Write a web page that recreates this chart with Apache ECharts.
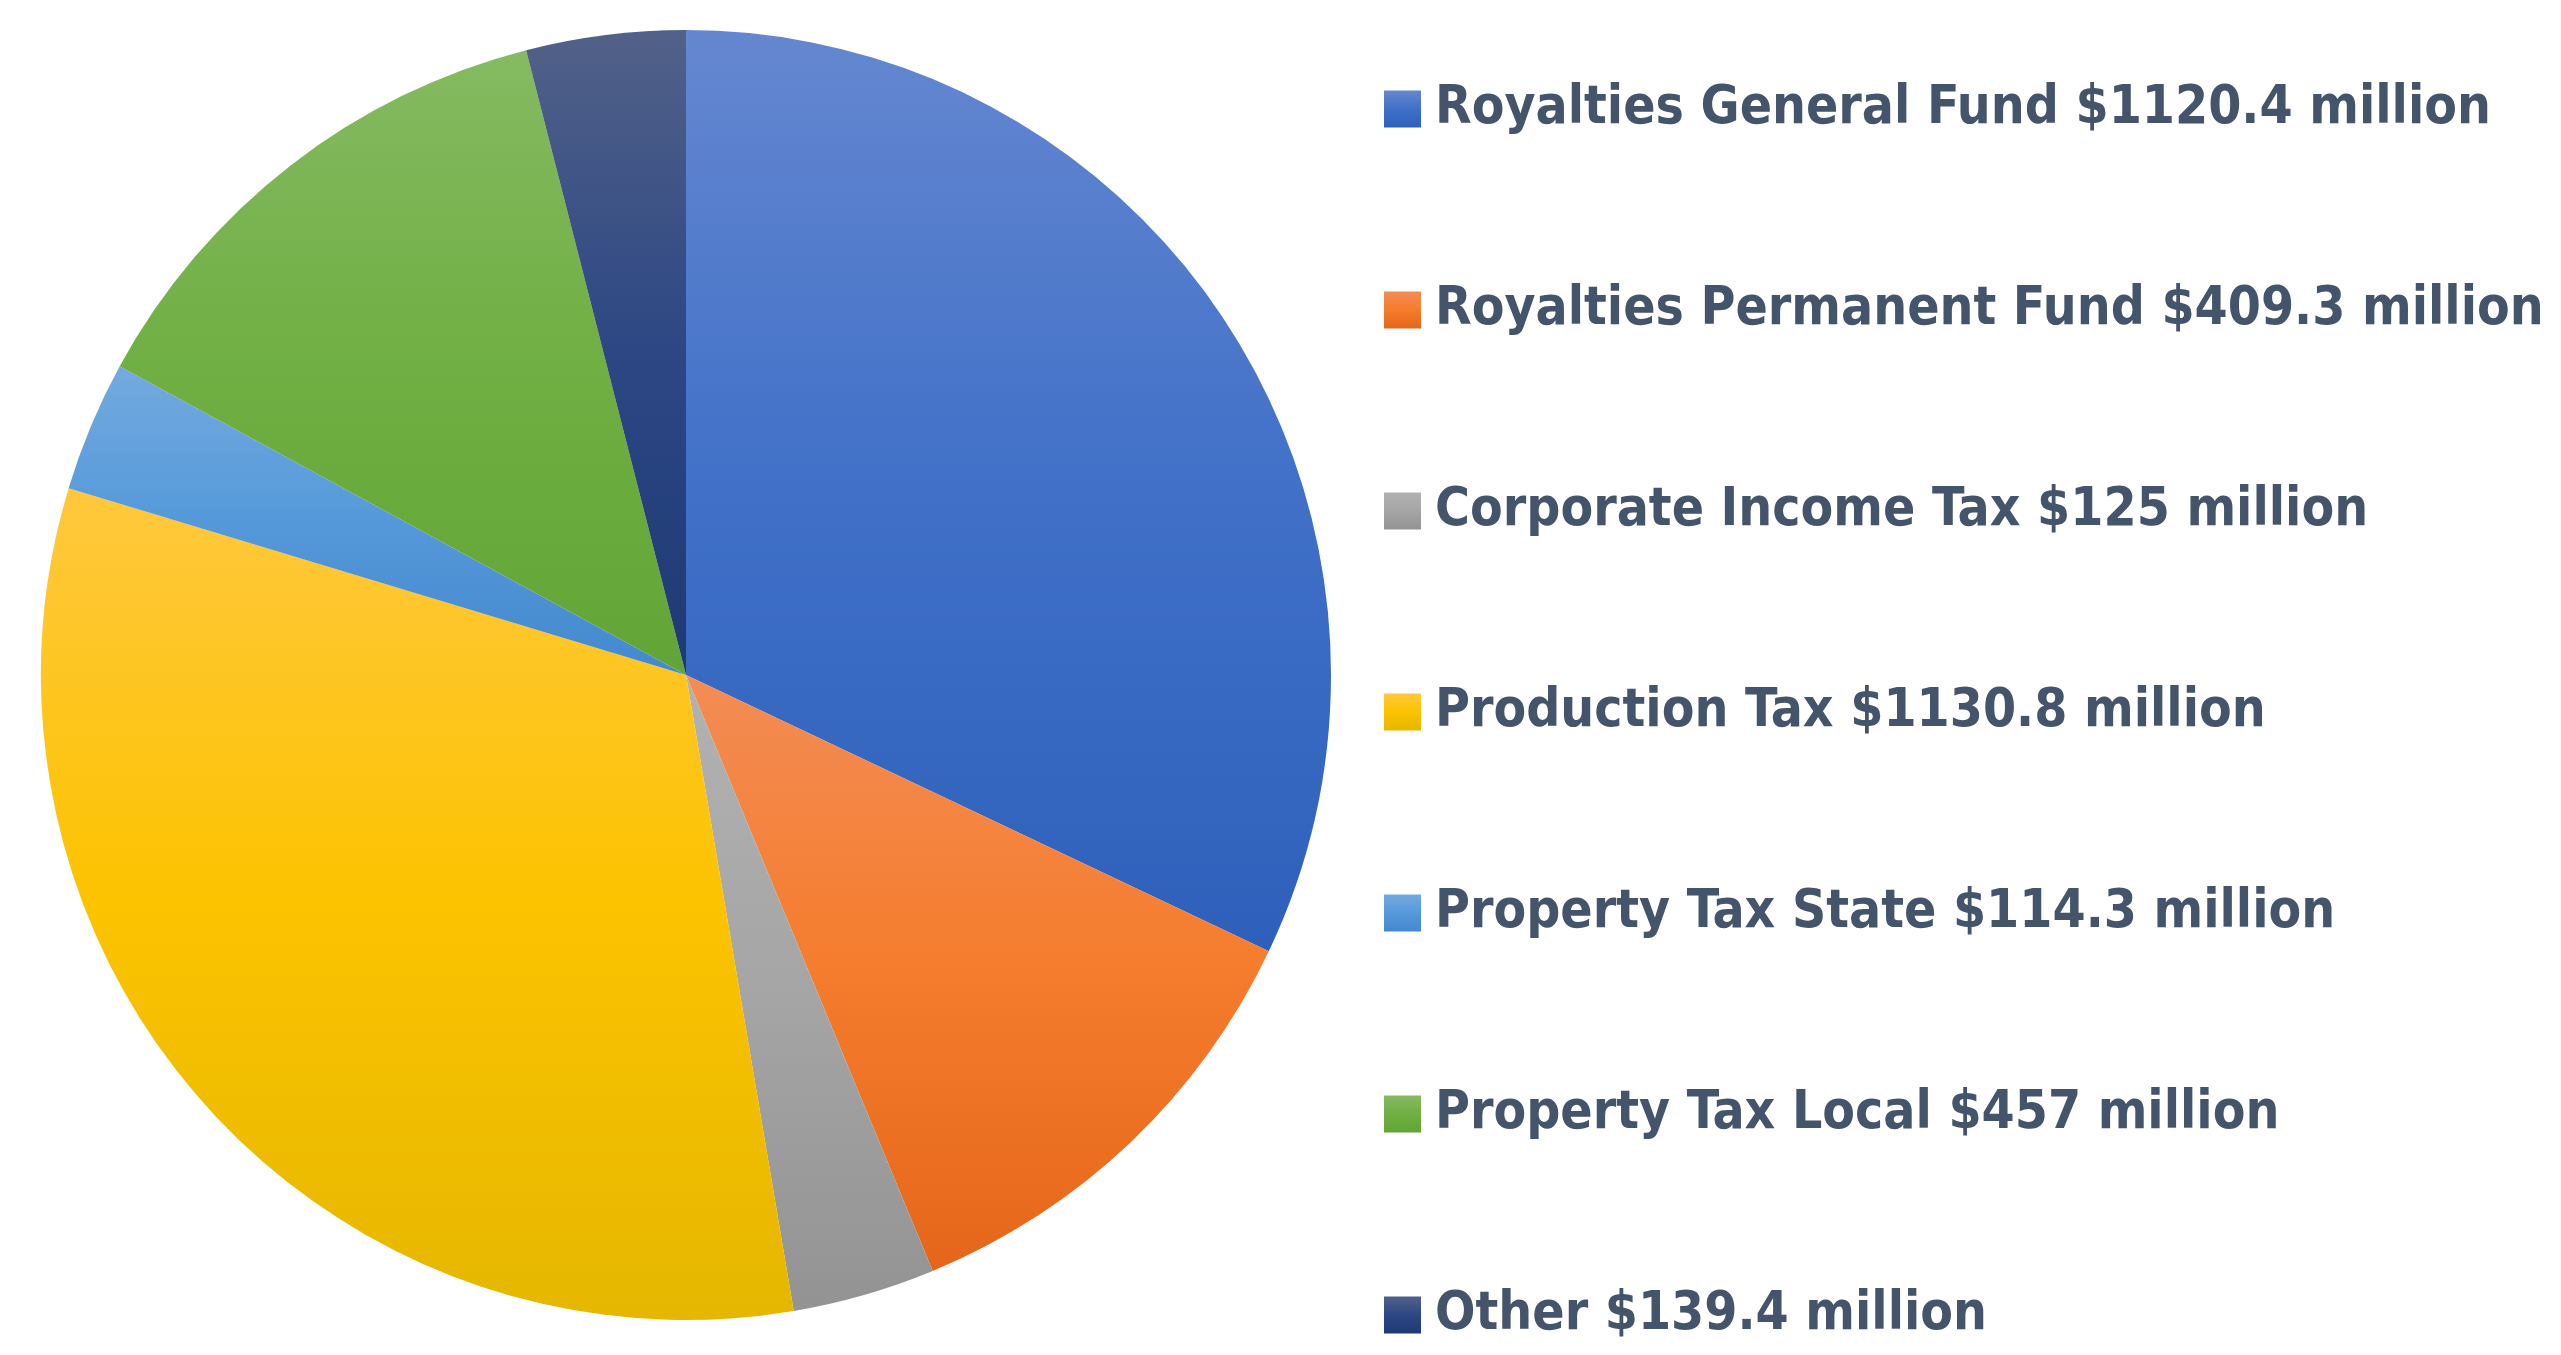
<!DOCTYPE html>
<html>
<head>
<meta charset="utf-8">
<title>Revenue pie</title>
<script src="https://cdn.jsdelivr.net/npm/echarts@6/dist/echarts.min.js"></script>
<style>
  html, body { margin: 0; padding: 0; background: #fff; }
  #main { width: 2561px; height: 1355px; }
</style>
</head>
<body>
<div id="main"></div>
<script>
// chart data
const categories = ['Royalties General Fund', 'Royalties Permanent Fund', 'Corporate Income Tax',
  'Production Tax', 'Property Tax State', 'Property Tax Local', 'Other']
const values = [1120.4, 409.3, 125, 1130.8, 114.3, 457, 139.4]
// gradient stops per slice: top, middle, bottom
const sliceColors = [
  ['#6587d0', '#4070c8', '#2e60bb'],
  ['#f38c55', '#f57c2c', '#e5661a'],
  ['#b2b2b2', '#a5a5a5', '#939393'],
  ['#ffc83d', '#fcc300', '#e5b700'],
  ['#74aadf', '#5599da', '#4488ce'],
  ['#85ba62', '#70af43', '#62a536'],
  ['#526188', '#2c4784', '#1e3a74']
]

const myChart = echarts.init(document.getElementById('main'))

const seriesData = categories.map((name, i) => ({
  name: name,
  value: values[i],
  itemStyle: {
    color: new echarts.graphic.LinearGradient(0, 0, 0, 1, [
      { offset: 0, color: sliceColors[i][0] },
      { offset: 0.5, color: sliceColors[i][1] },
      { offset: 1, color: sliceColors[i][2] }
    ])
  }
}))

const option = {
  backgroundColor: '#ffffff',
  animation: false,
  legend: {
    orient: 'vertical',
    left: 1384,
    top: 79,
    padding: 0,
    itemWidth: 37,
    itemHeight: 37,
    itemGap: 141,
    icon: 'rect',
    selectedMode: false,
    formatter: function (name) {
      const i = categories.indexOf(name)
      return name + ' $' + values[i] + ' million'
    },
    textStyle: {
      color: '#44546a',
      fontFamily: "'DejaVu Sans Condensed', 'Open Sans', sans-serif",
      fontWeight: 'bold',
      fontSize: 53,
      lineHeight: 60,
      padding: [0, 0, 0, 9]
    }
  },
  series: [
    {
      type: 'pie',
      center: [686, 675],
      radius: 645,
      startAngle: 90,
      clockwise: true,
      label: { show: false },
      labelLine: { show: false },
      emphasis: { disabled: true },
      itemStyle: { borderWidth: 0 },
      data: seriesData
    }
  ]
}

myChart.setOption(option)
</script>
</body>
</html>
